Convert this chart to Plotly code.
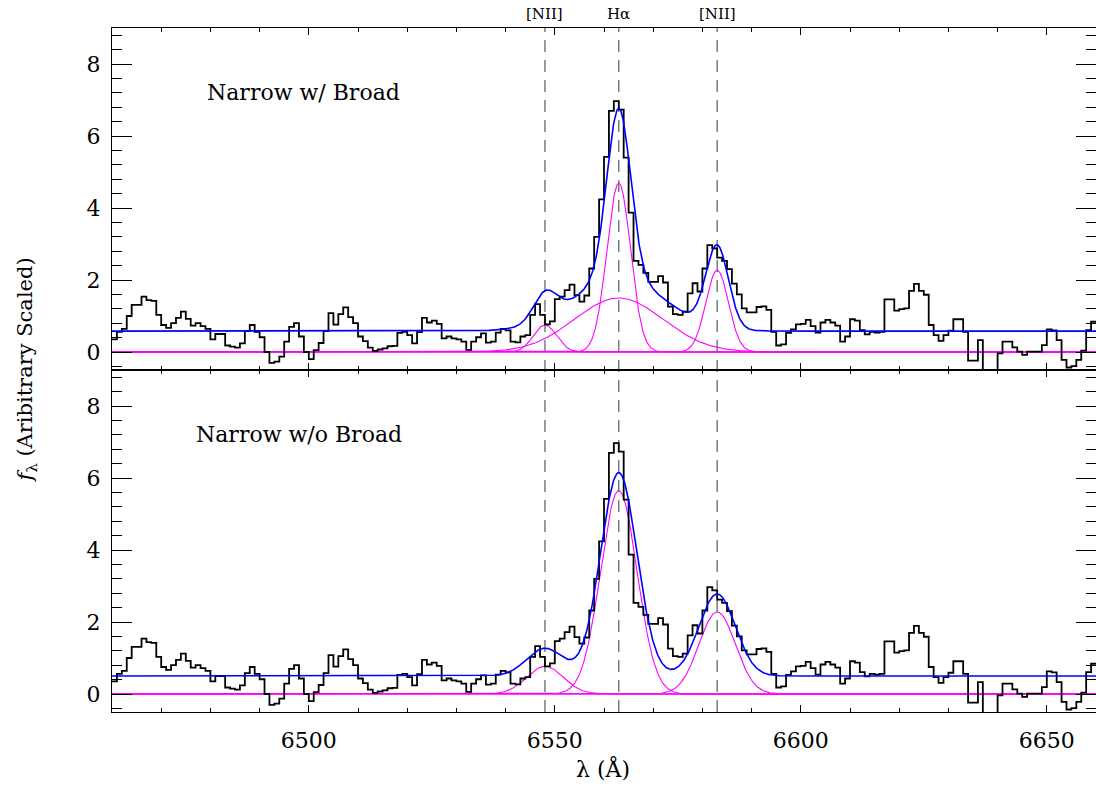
import numpy as np
import plotly.graph_objects as go

# ---------------- data ----------------
bin_start = 6460.0      # left edge of first bin (Angstrom)
bin_width = 1.0         # bin width (Angstrom)
flux = [
    0.35, 0.56, 0.64, 1.00, 1.31, 1.31, 1.54, 1.44, 1.42, 1.03,
    0.75, 0.67, 0.80, 0.95, 1.12, 0.92, 0.73, 0.80, 0.72, 0.64,
    0.35, 0.50, 0.50, 0.18, 0.15, 0.12, 0.24, 0.58, 0.75, 0.56,
    0.41, 0.00, -0.30, -0.27, -0.13, 0.29, 0.70, 0.80, 0.43, 0.00,
    -0.20, 0.05, 0.25, 0.58, 1.08, 0.76, 1.05, 1.24, 0.97, 0.80,
    0.43, 0.30, 0.12, 0.03, 0.07, 0.10, 0.16, 0.17, 0.53, 0.56,
    0.47, 0.24, 0.55, 0.95, 0.82, 0.87, 0.78, 0.38, 0.43, 0.38,
    0.35, 0.29, 0.06, 0.29, 0.41, 0.52, 0.26, 0.29, 0.54, 0.64,
    0.60, 0.29, 0.27, 0.43, 0.47, 1.03, 1.33, 1.03, 0.77, 0.85,
    1.47, 1.54, 1.72, 1.87, 1.58, 1.40, 1.57, 2.32, 3.20, 4.24,
    5.42, 6.70, 6.97, 6.73, 5.40, 3.87, 2.53, 2.42, 2.20, 1.95,
    1.95, 2.11, 1.93, 1.26, 1.05, 1.03, 1.12, 1.63, 1.91, 1.68,
    2.32, 2.97, 2.88, 2.62, 2.53, 2.30, 1.90, 1.60, 1.21, 1.10,
    1.10, 1.25, 1.27, 1.17, 0.56, 0.18, 0.21, 0.53, 0.63, 0.77,
    0.78, 0.89, 0.72, 0.54, 0.82, 0.89, 0.82, 0.73, 0.29, 0.43,
    0.91, 0.87, 0.61, 0.49, 0.56, 0.54, 0.56, 1.46, 1.46, 1.15,
    1.19, 1.21, 1.70, 1.89, 1.70, 1.59, 0.75, 0.47, 0.31, 0.47,
    0.59, 0.91, 0.91, 0.56, -0.24, -0.24, 0.33, -0.55, -0.55, -0.55,
    -0.04, 0.29, 0.29, 0.13, 0.01, -0.08, 0.01, 0.01, 0.01, 0.19,
    0.63, 0.60, 0.33, -0.22, -0.43, -0.39, -0.22, 0.04, 0.61, 0.84,
]

line_labels = ["[NII]", "H\u03b1", "[NII]"]
line_centers = [6548.0, 6563.0, 6583.0]

# fitted model parameters
top_continuum = 0.58
top_amps = [0.75, 4.69, 2.27]
top_sigmas = [2.35, 2.4, 2.3]
broad_amp = 1.5
broad_center = 6563.0
broad_sigma = 9.0

bot_continuum = 0.5
bot_amps = [0.77, 5.65, 2.28]
bot_sigmas = [3.7, 3.7, 3.7]

panel_labels = ["Narrow w/ Broad", "Narrow w/o Broad"]

x_range = [6460, 6660]
y_range = [-0.5, 9.0]
x_ticks = [6500, 6550, 6600, 6650]
y_ticks = [0, 2, 4, 6, 8]

# ---------------- derived ----------------
n = len(flux)
edges = bin_start + bin_width * np.arange(n + 1)
step_y = list(flux) + [flux[-1]]

wl = np.linspace(x_range[0], x_range[1], 2001)


def gauss(a, c, s):
    return a * np.exp(-0.5 * ((wl - c) / s) ** 2)


top_comps = [gauss(a, c, s) for a, c, s in zip(top_amps, line_centers, top_sigmas)]
top_broad = gauss(broad_amp, broad_center, broad_sigma)
top_total = top_continuum + sum(top_comps) + top_broad

bot_comps = [gauss(a, c, s) for a, c, s in zip(bot_amps, line_centers, bot_sigmas)]
bot_total = bot_continuum + sum(bot_comps)

BLACK = "black"
BLUE = "#0000ff"
MAG = "#ff00ff"
FONT = "DejaVu Serif"

fig = go.Figure()


def add_panel(xa, ya, comps, total):
    fig.add_trace(go.Scatter(x=[x_range[0], x_range[1]], y=[0, 0], mode="lines",
                             line=dict(color=MAG, width=1.6), xaxis=xa, yaxis=ya,
                             showlegend=False, hoverinfo="skip"))
    for comp in comps:
        fig.add_trace(go.Scatter(x=wl, y=comp, mode="lines",
                                 line=dict(color=MAG, width=1.1), xaxis=xa, yaxis=ya,
                                 showlegend=False, hoverinfo="skip"))
    fig.add_trace(go.Scatter(x=edges, y=step_y, mode="lines", line_shape="hv",
                             line=dict(color=BLACK, width=1.8), xaxis=xa, yaxis=ya,
                             showlegend=False))
    fig.add_trace(go.Scatter(x=wl, y=total, mode="lines",
                             line=dict(color=BLUE, width=1.6), xaxis=xa, yaxis=ya,
                             showlegend=False))


add_panel("x2", "y2", top_comps + [top_broad], top_total)
add_panel("x", "y", bot_comps, bot_total)

for c in line_centers:
    fig.add_shape(type="line", xref="x", yref="paper", x0=c, x1=c, y0=0, y1=1,
                  line=dict(color="#5a6e6e", width=1.3, dash="12px,8px"), layer="below")

for lab, c in zip(line_labels, line_centers):
    fig.add_annotation(x=c, y=1, xref="x", yref="paper", text=lab, showarrow=False,
                       yanchor="bottom", yshift=3, font=dict(family=FONT, size=15, color="black"))

fig.add_annotation(x=0.095, y=0.906, xref="paper", yref="paper", text=panel_labels[0],
                   showarrow=False, xanchor="left", yanchor="middle",
                   font=dict(family=FONT, size=22, color="black"))
fig.add_annotation(x=0.083, y=0.405, xref="paper", yref="paper", text=panel_labels[1],
                   showarrow=False, xanchor="left", yanchor="middle",
                   font=dict(family=FONT, size=22, color="black"))

fig.add_annotation(x=-0.087, y=0.5, xref="paper", yref="paper",
                   text="<i>f</i><sub>\u03bb</sub> (Aribitrary Scaled)", textangle=-90,
                   showarrow=False, xanchor="center", yanchor="middle",
                   font=dict(family=FONT, size=21, color="black"))
fig.add_annotation(x=0.499, y=-0.082, xref="paper", yref="paper",
                   text="\u03bb (\u00c5)", showarrow=False, xanchor="center", yanchor="middle",
                   font=dict(family=FONT, size=22, color="black"))

xcommon = dict(range=x_range, tickmode="array", tickvals=x_ticks, ticks="inside",
               ticklen=7, tickwidth=1, tickcolor="black",
               minor=dict(ticks="inside", ticklen=3.5, tickcolor="black", tickwidth=1,
                          tickmode="linear", tick0=6460, dtick=10),
               showline=True, linecolor="black", linewidth=1.3, mirror="ticks",
               showgrid=False, zeroline=False,
               tickfont=dict(family=FONT, size=22, color="black"))
ycommon = dict(range=y_range, tickmode="array", tickvals=y_ticks, ticks="inside",
               ticklen=20, tickwidth=1, tickcolor="black",
               minor=dict(ticks="inside", ticklen=10, tickcolor="black", tickwidth=1,
                          tickmode="linear", tick0=0, dtick=0.4),
               showline=True, linecolor="black", linewidth=1.3, mirror="ticks",
               showgrid=False, zeroline=False,
               tickfont=dict(family=FONT, size=22, color="black"))

fig.update_layout(
    width=1096, height=786,
    autosize=False,
    margin=dict(l=112, r=0, t=28, b=74, autoexpand=False),
    paper_bgcolor="white", plot_bgcolor="white",
    showlegend=False,
    xaxis=dict(**xcommon, anchor="y", ticklabelstandoff=8),
    yaxis=dict(**ycommon, domain=[0, 0.5], anchor="x", ticklabelstandoff=6),
    xaxis2=dict(**xcommon, anchor="y2", matches="x", showticklabels=False),
    yaxis2=dict(**ycommon, domain=[0.5, 1], anchor="x2", ticklabelstandoff=6),
)

fig.write_html("out.html", config={"responsive": False, "displayModeBar": False})

# remove the browser's default page margin so the figure sits at the window origin
with open("out.html", "r", encoding="utf-8") as fh:
    page = fh.read()
page = page.replace("<head>", "<head><style>html,body{margin:0;padding:0;overflow:hidden;}</style>", 1)
with open("out.html", "w", encoding="utf-8") as fh:
    fh.write(page)
